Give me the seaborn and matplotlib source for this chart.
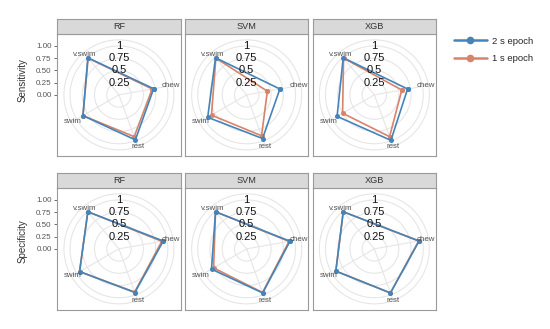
import numpy as np
import pandas as pd
import seaborn as sns
import matplotlib.pyplot as plt
from matplotlib.lines import Line2D
from matplotlib.patches import Circle

categories = ['chew', 'rest', 'swim', 'v.swim']
models = ['RF', 'SVM', 'XGB']
metrics = ['Sensitivity', 'Specificity']
epochs = ['2 s epoch', '1 s epoch']
ring_labels = ['1', '0.75', '0.5', '0.25']
ring_values = [1.0, 0.75, 0.5, 0.25]
r_ticks = [0.0, 0.25, 0.5, 0.75, 1.0]
r_tick_labels = ['0.00', '0.25', '0.50', '0.75', '1.00']

# values per category (chew, rest, swim, v.swim)
rf_sens_2s = [0.72, 0.98, 0.85, 0.99]
rf_sens_1s = [0.69, 0.91, 0.85, 0.98]
svm_sens_2s = [0.69, 0.95, 0.92, 0.99]
svm_sens_1s = [0.43, 0.89, 0.83, 0.98]
xgb_sens_2s = [0.69, 0.99, 0.88, 0.99]
xgb_sens_1s = [0.57, 0.91, 0.75, 0.98]

rf_spec_2s = [0.92, 0.95, 0.93, 0.99]
rf_spec_1s = [0.89, 0.94, 0.93, 0.99]
svm_spec_2s = [0.90, 0.96, 0.83, 0.99]
svm_spec_1s = [0.88, 0.95, 0.78, 0.99]
xgb_spec_2s = [0.93, 0.96, 0.91, 0.99]
xgb_spec_1s = [0.92, 0.96, 0.91, 0.99]

series = {
    ('Sensitivity', 'RF', '2 s epoch'): rf_sens_2s,
    ('Sensitivity', 'RF', '1 s epoch'): rf_sens_1s,
    ('Sensitivity', 'SVM', '2 s epoch'): svm_sens_2s,
    ('Sensitivity', 'SVM', '1 s epoch'): svm_sens_1s,
    ('Sensitivity', 'XGB', '2 s epoch'): xgb_sens_2s,
    ('Sensitivity', 'XGB', '1 s epoch'): xgb_sens_1s,
    ('Specificity', 'RF', '2 s epoch'): rf_spec_2s,
    ('Specificity', 'RF', '1 s epoch'): rf_spec_1s,
    ('Specificity', 'SVM', '2 s epoch'): svm_spec_2s,
    ('Specificity', 'SVM', '1 s epoch'): svm_spec_1s,
    ('Specificity', 'XGB', '2 s epoch'): xgb_spec_2s,
    ('Specificity', 'XGB', '1 s epoch'): xgb_spec_1s,
}

# polar layout like ggplot coord_polar (clockwise from top)
step = 360 / 4.5
theta = {c: np.deg2rad(step * (i + 1)) for i, c in enumerate(categories)}

rows = []
for (metric, model, epoch), vals in series.items():
    order = list(zip(categories, vals)) + [(categories[0], vals[0])]
    for k, (cat, v) in enumerate(order):
        rows.append({'metric': metric, 'model': model, 'epoch': epoch,
                     'category': cat, 'value': v, 'step': k,
                     'x': v * np.sin(theta[cat]), 'y': v * np.cos(theta[cat])})
df = pd.DataFrame(rows)

palette = {'2 s epoch': '#4584b8', '1 s epoch': '#d8836a'}

sns.set_theme(style='white')
plt.rcParams['font.family'] = ['Liberation Sans', 'DejaVu Sans']

W, H = 550, 329
fig = plt.figure(figsize=(W / 100, H / 100), dpi=100)

col_left = [57.3, 185.0, 312.7]
row_top = [33.7, 187.7]
pw, ph = 123.3, 122.3
strip_h = 14.5
unit = 48.9  # pixels per r = 1
border = '#9a9a9a'
grid = '#e6e6e6'

for ri, metric in enumerate(metrics):
    for ci, model in enumerate(models):
        left = col_left[ci] / W
        bottom = (H - row_top[ri] - ph) / H
        ax = fig.add_axes([left, bottom, pw / W, ph / H])
        ax.set_xlim(-pw / 2 / unit, pw / 2 / unit)
        ax.set_ylim(-ph / 2 / unit, ph / 2 / unit)

        for r in ring_values + [1.125]:
            ax.add_patch(Circle((0, 0), r, fill=False, ec=grid, lw=0.8, zorder=0))
        for cat in categories:
            t = theta[cat]
            ax.plot([0, 1.125 * np.sin(t)], [0, 1.125 * np.cos(t)],
                    color=grid, lw=0.8, zorder=0)

        sub = df[(df.metric == metric) & (df.model == model)]
        sns.lineplot(data=sub, x='x', y='y', hue='epoch', units='epoch',
                     hue_order=['1 s epoch', '2 s epoch'], palette=palette,
                     sort=False, estimator=None, marker='o', markersize=3.6,
                     markeredgewidth=0, lw=1.2, ax=ax, legend=False, zorder=3)

        for lab, r in zip(ring_labels, ring_values):
            ax.text(0, r, lab, ha='center', va='center', fontsize=8,
                    color='#111111', zorder=4)
        for cat in categories:
            t = theta[cat]
            rr = 1.13 if cat == 'rest' else 1.08
            ax.text(rr * np.sin(t), rr * np.cos(t), cat, ha='center',
                    va='center', fontsize=5.7, color='#555555', zorder=4)

        ax.set_xlabel('')
        ax.set_ylabel('')
        ax.set_xticks([])
        if ci == 0:
            ax.set_yticks(r_ticks)
            ax.set_yticklabels(r_tick_labels)
            ax.tick_params(axis='y', left=True, length=2.5, width=0.6,
                           color='#555555', labelsize=5.8, labelcolor='#555555', pad=1.5)
        else:
            ax.set_yticks([])
        for s in ax.spines.values():
            s.set_color(border)
            s.set_linewidth(0.8)

        sax = fig.add_axes([left, (H - row_top[ri]) / H, pw / W, strip_h / H])
        sax.set_facecolor('#d9d9d9')
        sax.set_xticks([])
        sax.set_yticks([])
        for s in sax.spines.values():
            s.set_color(border)
            s.set_linewidth(0.8)
        sax.text(0.5, 0.5, model, ha='center', va='center', fontsize=6.6,
                 color='#333333', transform=sax.transAxes)

fig.text(23 / W, 1 - 80 / H, 'Sensitivity', rotation=90, ha='center',
         va='center', fontsize=7, color='#333333')
fig.text(23 / W, 1 - 241 / H, 'Specificity', rotation=90, ha='center',
         va='center', fontsize=7, color='#333333')

handles = [Line2D([], [], color=palette[e], lw=1.8, marker='o', markersize=5.5,
                  markeredgewidth=0) for e in epochs]
fig.legend(handles, epochs, loc='center left', bbox_to_anchor=(449 / W, 1 - 50 / H),
           frameon=False, fontsize=6.8, handlelength=3.5, labelspacing=0.95,
           handletextpad=0.6, borderpad=0)

fig.savefig('out.png', dpi=100)
